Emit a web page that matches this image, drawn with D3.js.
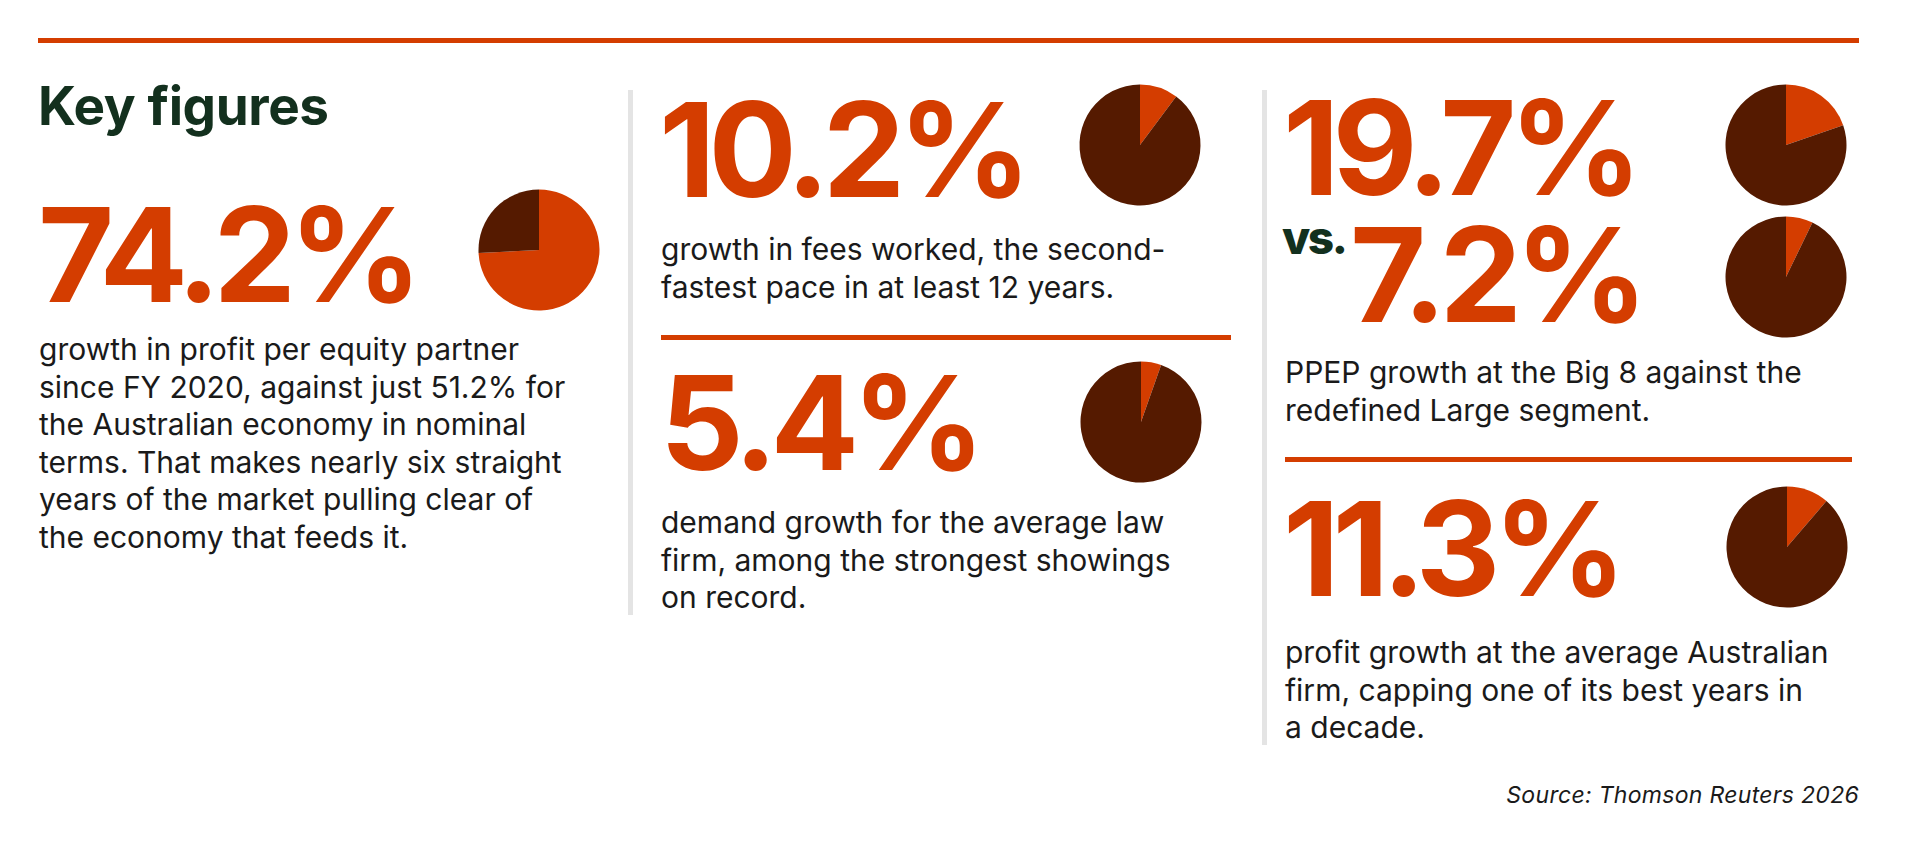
<!DOCTYPE html>
<html>
<head>
<meta charset="UTF-8">
<script src="https://cdn.jsdelivr.net/npm/d3@7"></script>
<title>Key figures</title>
<style>
    body{margin:0;background:#fff;}
    .big{font-family:Inter,sans-serif;font-weight:700;fill:#d43d00;letter-spacing:-7px;}
    .body{font-family:Inter,sans-serif;font-weight:400;fill:#1a1a1a;letter-spacing:0px;}
</style>
</head>
<body>
<div id="container"></div>
<script>
    // figures (percent) and their texts
    var figures=[74.2,10.2,5.4,19.7,7.2,11.3]
    var figureLabels=['74.2%','10.2%','5.4%','19.7%','7.2%','11.3%']
    var notes=[
        ['growth in profit per equity partner','since FY 2020, against just 51.2% for','the Australian economy in nominal','terms. That makes nearly six straight','years of the market pulling clear of','the economy that feeds it.'],
        ['growth in fees worked, the second-','fastest pace in at least 12 years.'],
        ['demand growth for the average law','firm, among the strongest showings','on record.'],
        ['PPEP growth at the Big 8 against the','redefined Large segment.'],
        ['profit growth at the average Australian','firm, capping one of its best years in','a decade.']
    ]
    var title='Key figures', source='Source: Thomson Reuters 2026'

    var width=1920,height=848
    var orange='#d43d00',brown='#551a00'

    // layout: where each figure sits (number baseline, pie centre)
    var layout=[
        {x:38,y:302,px:539,py:250},
        {x:659,y:197,px:1140,py:145},
        {x:660,y:470,px:1141,py:422},
        {x:1283,y:195,px:1786,py:145},
        {x:1350,y:322,px:1786,py:277},
        {x:1283,y:596,px:1787,py:547}
    ]
    var noteLayout=[
        {x:39,y:360},{x:661,y:260},{x:661,y:533},{x:1285,y:383},{x:1285,y:663}
    ]

    var svg=d3.select('#container').append('svg')
    .attr('width',width)
    .attr('height',height)

    // top rule
    svg.append('rect').attr('x',38).attr('y',38).attr('width',1821).attr('height',5).attr('fill',orange)
    // column dividers
    svg.append('rect').attr('x',628).attr('y',90).attr('width',5).attr('height',525).attr('fill','#e4e4e4')
    svg.append('rect').attr('x',1262).attr('y',90).attr('width',5).attr('height',655).attr('fill','#e4e4e4')
    // inner rules
    svg.append('rect').attr('x',661).attr('y',335).attr('width',570).attr('height',5).attr('fill',orange)
    svg.append('rect').attr('x',1285).attr('y',457).attr('width',567).attr('height',5).attr('fill',orange)

    svg.append('text').text(title)
    .attr('x',38).attr('y',125)
    .attr('font-family','Inter,sans-serif').attr('font-weight',700)
    .attr('font-size',53).attr('letter-spacing',-0.4)
    .attr('fill','#13301e')

    svg.append('text').text('vs.')
    .attr('x',1282).attr('y',254)
    .attr('font-family','Inter,sans-serif').attr('font-weight',800)
    .attr('font-size',46).attr('letter-spacing',-2.5)
    .attr('fill','#13301e')

    // big numbers
    svg.selectAll('.big').data(figureLabels).enter().append('text')
    .attr('class','big')
    .attr('x',function(d,i){return layout[i].x})
    .attr('y',function(d,i){return layout[i].y})
    .attr('font-size',131)
    .text(function(d){return d})

    // pies
    var pie=d3.pie().sort(null)
    var arc=d3.arc().innerRadius(0).outerRadius(60.5)
    figures.forEach(function(v,i){
        var g=svg.append('g').attr('transform','translate('+layout[i].px+','+layout[i].py+')')
        g.selectAll('path').data(pie([v,100-v])).enter().append('path')
        .attr('d',arc)
        .attr('fill',function(d,j){return j==0?orange:brown})
    })

    // notes
    notes.forEach(function(lines,i){
        var t=svg.append('text').attr('class','body')
        .attr('x',noteLayout[i].x).attr('y',noteLayout[i].y)
        .attr('font-size',30)
        t.selectAll('tspan').data(lines).enter().append('tspan')
        .attr('x',noteLayout[i].x)
        .attr('dy',function(d,j){return j==0?0:37.6})
        .text(function(d){return d})
    })

    svg.append('text').text(source)
    .attr('x',1859).attr('y',803)
    .attr('text-anchor','end')
    .attr('font-family','Inter,sans-serif').attr('font-style','italic')
    .attr('font-size',23).attr('letter-spacing',0.3).attr('fill','#1a1a1a')
</script>
</body>
</html>
